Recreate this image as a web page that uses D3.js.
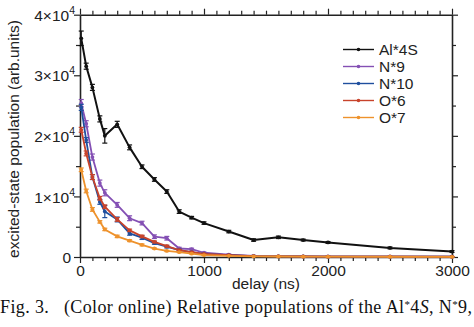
<!DOCTYPE html>
<html><head><meta charset="utf-8">
<script src="https://cdnjs.cloudflare.com/ajax/libs/d3/7.8.5/d3.min.js"></script>
<style>
html,body{margin:0;padding:0;background:#fff;}
svg{display:block;font-family:"Liberation Sans",Arial,sans-serif;}
</style></head>
<body>
<svg id="chart" width="474" height="327"></svg>
<script>
const delays = [10, 50, 100, 160, 200, 300, 400, 500, 600, 700, 800, 900, 1000, 1200, 1400, 1600, 1800, 2000, 2500, 3000];
const seriesNames = ["Al*4S", "N*9", "N*10", "O*6", "O*7"];
const alValues = [36100, 31500, 28000, 22800, 20000, 21900, 18100, 14900, 12800, 10800, 7500, 6500, 5600, 4200, 2800, 3250, 2800, 2400, 1500, 900];
const alErrors = [1200, 500, 500, 500, 1200, 500, 400, 300, 300, 300, 300, 200, 200, 200, 200, 200, 150, 150, 150, 150];
const n9Values = [25400, 22000, 16500, 12200, 10600, 8600, 6400, 5600, 3350, 3100, 1400, 1300, 700, 400, 200, 150, 100, 100, 80, 60];
const n9Errors = [600, 500, 500, 500, 500, 400, 400, 300, 300, 300, 200, 150, 100, 100, 80, 60, 50, 50, 40, 30];
const n10Values = [24700, 19300, 13200, 9100, 7500, 6200, 3900, 3200, 2300, 1700, 1150, 800, 500, 300, 150, 100, 80, 60, 50, 40];
const n10Errors = [500, 400, 400, 400, 1000, 400, 300, 300, 200, 200, 150, 100, 100, 80, 60, 50, 40, 40, 30, 30];
const o6Values = [21000, 17100, 13200, 9700, 8300, 6200, 4400, 3400, 2500, 1800, 1150, 800, 500, 300, 150, 100, 80, 60, 50, 40];
const o6Errors = [400, 400, 400, 300, 300, 300, 200, 200, 150, 150, 100, 100, 80, 60, 50, 40, 40, 30, 30, 30];
const o7Values = [14400, 10900, 7850, 5800, 4550, 3400, 2700, 2000, 1400, 1000, 800, 550, 300, 200, 100, 80, 60, 50, 40, 30];
const o7Errors = [300, 300, 300, 200, 200, 200, 150, 150, 100, 100, 80, 60, 50, 40, 30, 30, 30, 30, 30, 30];
const colors = ["#111111", "#8450b4", "#1f4f9e", "#c8432b", "#ee922c"];
const xTicks = d3.range(0, 3001, 100);
const xLabels = [0, 1000, 2000, 3000];
const yTicks = d3.range(0, 40001, 5000);
const yLabelMantissa = ["0", "1×10", "2×10", "3×10", "4×10"];

const values = [alValues, n9Values, n10Values, o6Values, o7Values];
const errors = [alErrors, n9Errors, n10Errors, o6Errors, o7Errors];

const svg = d3.select("#chart");
const L = 80, R = 452, T = 14.7, B = 257;
const x = d3.scaleLinear().domain([0, 3000]).range([L, R]);
const y = d3.scaleLinear().domain([0, 40000]).range([B, T]);
const ink = "#222";
const sans = "Liberation Sans, Arial, sans-serif";

function styleAxis(g) {
  g.selectAll(".domain").attr("stroke", ink).attr("stroke-width", 1.6);
  g.selectAll(".tick line").attr("stroke", ink).attr("stroke-width", 1.2);
}

// bottom axis
const gb = svg.append("g").attr("transform", `translate(0,${B})`)
  .call(d3.axisBottom(x).tickValues(xTicks).tickSizeOuter(0).tickFormat(d => xLabels.includes(d) ? d : ""));
gb.selectAll(".tick line").attr("y2", d => d % 1000 === 0 ? 6 : 4);
gb.selectAll(".tick text").attr("y", 8).attr("font-size", 15.5).attr("fill", ink).attr("font-family", sans);
styleAxis(gb);
// top axis
const gt = svg.append("g").attr("transform", `translate(0,${T})`)
  .call(d3.axisTop(x).tickValues(xTicks).tickSizeOuter(0).tickFormat(""));
gt.selectAll(".tick line").attr("y2", d => d % 1000 === 0 ? -6 : -4);
styleAxis(gt);
// left axis
const gl = svg.append("g").attr("transform", `translate(${L},0)`)
  .call(d3.axisLeft(y).tickValues(yTicks).tickSizeOuter(0).tickFormat(""));
gl.selectAll(".tick line").attr("x2", d => d % 10000 === 0 ? -6 : -4);
styleAxis(gl);
gl.selectAll(".tick").filter(d => d % 10000 === 0).each(function(d) {
  const i = d / 10000;
  const t = d3.select(this).append("text")
    .attr("x", i === 0 ? -9 : -5).attr("dy", "0.36em").attr("text-anchor", "end")
    .attr("font-size", 15.5).attr("fill", ink).attr("font-family", sans);
  t.append("tspan").text(yLabelMantissa[i]);
  if (i > 0) t.append("tspan").attr("dy", -7).attr("font-size", 10.5).text("4");
});
// right axis
const gr = svg.append("g").attr("transform", `translate(${R},0)`)
  .call(d3.axisRight(y).tickValues(yTicks).tickSizeOuter(0).tickFormat(""));
gr.selectAll(".tick line").attr("x2", d => d % 10000 === 0 ? 6 : 4);
styleAxis(gr);

// axis titles
svg.append("text").attr("x", 266).attr("y", 289).attr("text-anchor", "middle")
  .attr("font-size", 15.5).attr("fill", ink).text("delay (ns)");
svg.append("text").attr("transform", "translate(19,139) rotate(-90)").attr("text-anchor", "middle")
  .attr("font-size", 15.5).attr("fill", ink).text("excited-state population (arb.units)");

// series
const line = d3.line().x(d => x(d.t)).y(d => y(d.v));
seriesNames.forEach((name, si) => {
  const pts = delays.map((t, i) => ({t, v: values[si][i], e: errors[si][i]}));
  const g = svg.append("g").attr("class", "series");
  const c = colors[si];
  const eb = g.selectAll(".eb").data(pts).enter().append("g");
  eb.append("line").attr("x1", d => x(d.t)).attr("x2", d => x(d.t))
    .attr("y1", d => y(d.v - d.e)).attr("y2", d => y(d.v + d.e)).attr("stroke", c).attr("stroke-width", 1.2);
  eb.append("line").attr("x1", d => x(d.t) - 2.5).attr("x2", d => x(d.t) + 2.5)
    .attr("y1", d => y(d.v + d.e)).attr("y2", d => y(d.v + d.e)).attr("stroke", c).attr("stroke-width", 1.2);
  eb.append("line").attr("x1", d => x(d.t) - 2.5).attr("x2", d => x(d.t) + 2.5)
    .attr("y1", d => y(d.v - d.e)).attr("y2", d => y(d.v - d.e)).attr("stroke", c).attr("stroke-width", 1.2);
  g.append("path").datum(pts).attr("d", line).attr("fill", "none")
    .attr("stroke", c).attr("stroke-width", si === 0 ? 2 : 1.8).attr("stroke-linejoin", "round");
  g.selectAll("circle").data(pts).enter().append("circle")
    .attr("cx", d => x(d.t)).attr("cy", d => y(d.v)).attr("r", 1.9).attr("fill", c);
});

// legend
const lg = svg.append("g");
seriesNames.forEach((name, i) => {
  const yy = 49.5 + i * 17;
  lg.append("line").attr("x1", 343).attr("x2", 374).attr("y1", yy).attr("y2", yy)
    .attr("stroke", colors[i]).attr("stroke-width", 1.4);
  lg.append("circle").attr("cx", 358.5).attr("cy", yy).attr("r", 1.8).attr("fill", colors[i]);
  lg.append("text").attr("x", 379).attr("y", yy).attr("dy", "0.36em")
    .attr("font-size", 15.5).attr("fill", ink).text(name);
});

// caption
const cap = svg.append("text").attr("x", 0).attr("y", 313)
  .attr("font-family", "Liberation Serif, Times New Roman, serif").attr("font-size", 18).attr("fill", "#111")
  .attr("textLength", 472).attr("lengthAdjust", "spacing");
cap.append("tspan").text("Fig. 3.\u00a0\u00a0\u00a0(Color online) Relative populations of the Al");
cap.append("tspan").attr("font-size", 11).attr("dy", -5).text("*");
cap.append("tspan").attr("dy", 5).text("4");
cap.append("tspan").attr("font-style", "italic").text("S");
cap.append("tspan").text(", N");
cap.append("tspan").attr("font-size", 11).attr("dy", -5).text("*");
cap.append("tspan").attr("dy", 5).text("9,");
</script>
</body></html>
